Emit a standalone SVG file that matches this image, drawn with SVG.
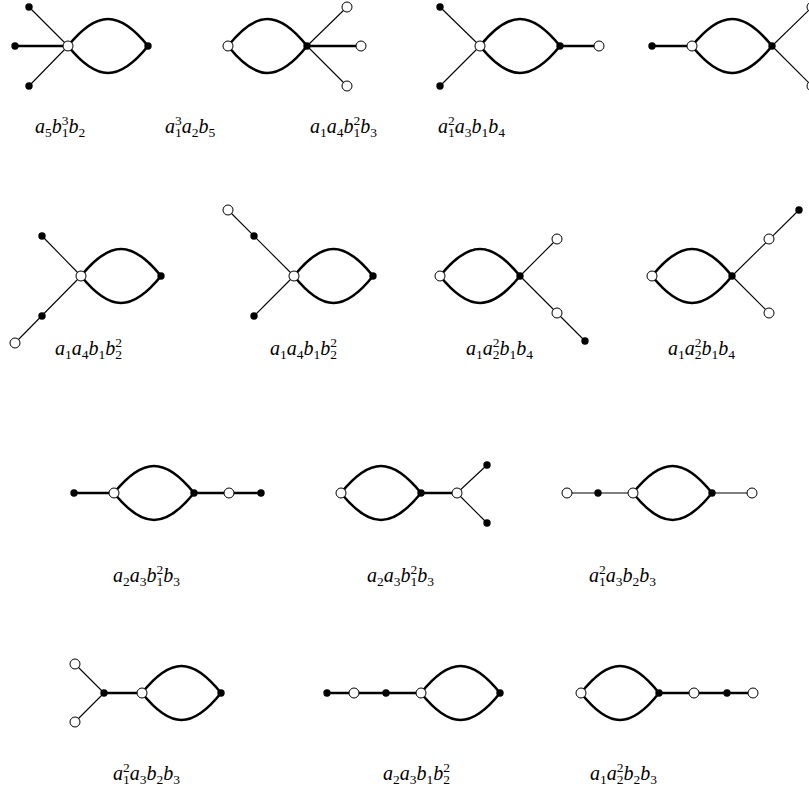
<svg xmlns="http://www.w3.org/2000/svg" width="809" height="793" viewBox="0 0 809 793">
<style>
.bg{fill:#fff}
.lens{fill:none;stroke:#000;stroke-width:2.6}
.thick{stroke:#000;stroke-width:2.4}
.thin{stroke:#000;stroke-width:1.1}
.w{fill:#fff;stroke:#000;stroke-width:1}
.b{fill:#000}
.m{font-family:"Liberation Serif","DejaVu Serif",serif;font-size:20px;font-style:italic;fill:#000}
.d{font-size:13.5px;font-style:normal}
</style>
<defs>
<path id="lens" d="M0 0 C29 -36 51 -36 80 0 M0 0 C29 36 51 36 80 0"/>
<circle id="W" r="5"/>
<circle id="B" r="3.7"/>
</defs>
<rect class="bg" width="809" height="793"/>
<g id="connectors">
<line class="thin" x1="29" y1="7" x2="68" y2="46"/><line class="thick" x1="15" y1="46" x2="68" y2="46"/><line class="thin" x1="29" y1="86" x2="68" y2="46"/>
<use href="#lens" class="lens" x="68" y="46"/>
<use href="#lens" class="lens" transform="translate(228 46) scale(0.9875 1)"/>
<line class="thin" x1="307" y1="46" x2="347" y2="7"/><line class="thick" x1="307" y1="46" x2="361" y2="46"/><line class="thin" x1="307" y1="46" x2="347" y2="86"/>
<line class="thin" x1="440" y1="7" x2="480" y2="46"/><line class="thin" x1="440" y1="86" x2="480" y2="46"/>
<use href="#lens" class="lens" x="480" y="46"/>
<line class="thick" x1="560" y1="46" x2="599" y2="46"/>
<line class="thick" x1="652" y1="46" x2="692" y2="46"/>
<use href="#lens" class="lens" x="692" y="46"/>
<line class="thin" x1="772" y1="46" x2="812" y2="7"/><line class="thin" x1="772" y1="46" x2="812" y2="86"/>
<line class="thin" x1="42" y1="236" x2="81" y2="276"/><line class="thin" x1="15" y1="343" x2="81" y2="276"/>
<use href="#lens" class="lens" x="81" y="276"/>
<line class="thin" x1="228" y1="210" x2="294" y2="276"/><line class="thin" x1="254" y1="316" x2="294" y2="276"/>
<use href="#lens" class="lens" transform="translate(294 276) scale(0.9875 1)"/>
<use href="#lens" class="lens" x="440" y="276"/>
<line class="thin" x1="520" y1="276" x2="557" y2="239"/><line class="thin" x1="520" y1="276" x2="585" y2="341"/>
<use href="#lens" class="lens" x="652" y="276"/>
<line class="thin" x1="732" y1="276" x2="799" y2="210"/><line class="thin" x1="732" y1="276" x2="769" y2="313"/>
<line class="thick" x1="74" y1="493" x2="114" y2="493"/>
<use href="#lens" class="lens" x="114" y="493"/>
<line class="thick" x1="194" y1="493" x2="261" y2="493"/>
<use href="#lens" class="lens" x="341" y="493"/>
<line class="thick" x1="421" y1="493" x2="457" y2="493"/>
<line class="thin" x1="457" y1="493" x2="487" y2="465"/><line class="thin" x1="457" y1="493" x2="487" y2="523"/>
<line class="thin" x1="567" y1="493" x2="633" y2="493"/>
<use href="#lens" class="lens" transform="translate(633 493) scale(0.9875 1)"/>
<line class="thin" x1="712" y1="493" x2="752" y2="493"/>
<line class="thin" x1="75" y1="664" x2="104" y2="693"/><line class="thin" x1="75" y1="722" x2="104" y2="693"/>
<line class="thick" x1="104" y1="693" x2="142" y2="693"/>
<use href="#lens" class="lens" transform="translate(142 693) scale(0.9875 1)"/>
<line class="thick" x1="327" y1="693" x2="421" y2="693"/>
<use href="#lens" class="lens" transform="translate(421 693) scale(0.9875 1)"/>
<use href="#lens" class="lens" transform="translate(581 693) scale(0.975 1)"/>
<line class="thick" x1="659" y1="693" x2="753" y2="693"/>
</g>
<g id="g1"><use href="#W" class="w" x="68" y="46"/><use href="#B" class="b" x="148" y="46"/><use href="#B" class="b" x="29" y="7"/><use href="#B" class="b" x="15" y="46"/><use href="#B" class="b" x="29" y="86"/>
<text class="m" x="35" y="133">a<tspan class="d" dy="4">5</tspan><tspan dy="-4">b</tspan><tspan class="d" dy="4">1</tspan><tspan class="d" dx="-6.8" dy="-12">3</tspan><tspan dy="8">b</tspan><tspan class="d" dy="4">2</tspan></text></g>
<g id="g2"><use href="#W" class="w" x="228" y="46"/><use href="#B" class="b" x="307" y="46"/><use href="#W" class="w" x="347" y="7"/><use href="#W" class="w" x="361" y="46"/><use href="#W" class="w" x="347" y="86"/>
<text class="m" x="165" y="133">a<tspan class="d" dy="4">1</tspan><tspan class="d" dx="-6.8" dy="-12">3</tspan><tspan dy="8">a</tspan><tspan class="d" dy="4">2</tspan><tspan dy="-4">b</tspan><tspan class="d" dy="4">5</tspan></text></g>
<g id="g3"><use href="#W" class="w" x="480" y="46"/><use href="#B" class="b" x="560" y="46"/><use href="#B" class="b" x="440" y="7"/><use href="#B" class="b" x="440" y="86"/><use href="#W" class="w" x="599" y="46"/>
<text class="m" x="310" y="133">a<tspan class="d" dy="4">1</tspan><tspan dy="-4">a</tspan><tspan class="d" dy="4">4</tspan><tspan dy="-4">b</tspan><tspan class="d" dy="4">1</tspan><tspan class="d" dx="-6.8" dy="-12">2</tspan><tspan dy="8">b</tspan><tspan class="d" dy="4">3</tspan></text></g>
<g id="g4"><use href="#B" class="b" x="652" y="46"/><use href="#W" class="w" x="692" y="46"/><use href="#B" class="b" x="772" y="46"/><use href="#W" class="w" x="812" y="7"/><use href="#W" class="w" x="812" y="86"/>
<text class="m" x="438" y="133">a<tspan class="d" dy="4">1</tspan><tspan class="d" dx="-6.8" dy="-12">2</tspan><tspan dy="8">a</tspan><tspan class="d" dy="4">3</tspan><tspan dy="-4">b</tspan><tspan class="d" dy="4">1</tspan><tspan dy="-4">b</tspan><tspan class="d" dy="4">4</tspan></text></g>
<g id="g5"><use href="#W" class="w" x="81" y="276"/><use href="#B" class="b" x="161" y="276"/><use href="#B" class="b" x="42" y="236"/><use href="#B" class="b" x="42" y="316"/><use href="#W" class="w" x="15" y="343"/>
<text class="m" x="55" y="355">a<tspan class="d" dy="4">1</tspan><tspan dy="-4">a</tspan><tspan class="d" dy="4">4</tspan><tspan dy="-4">b</tspan><tspan class="d" dy="4">1</tspan><tspan dy="-4">b</tspan><tspan class="d" dy="4">2</tspan><tspan class="d" dx="-6.8" dy="-12">2</tspan></text></g>
<g id="g6"><use href="#W" class="w" x="294" y="276"/><use href="#B" class="b" x="373" y="276"/><use href="#B" class="b" x="254" y="236"/><use href="#W" class="w" x="228" y="210"/><use href="#B" class="b" x="254" y="316"/>
<text class="m" x="270" y="355">a<tspan class="d" dy="4">1</tspan><tspan dy="-4">a</tspan><tspan class="d" dy="4">4</tspan><tspan dy="-4">b</tspan><tspan class="d" dy="4">1</tspan><tspan dy="-4">b</tspan><tspan class="d" dy="4">2</tspan><tspan class="d" dx="-6.8" dy="-12">2</tspan></text></g>
<g id="g7"><use href="#W" class="w" x="440" y="276"/><use href="#B" class="b" x="520" y="276"/><use href="#W" class="w" x="557" y="239"/><use href="#W" class="w" x="557" y="313"/><use href="#B" class="b" x="585" y="341"/>
<text class="m" x="466" y="355">a<tspan class="d" dy="4">1</tspan><tspan dy="-4">a</tspan><tspan class="d" dy="4">2</tspan><tspan class="d" dx="-6.8" dy="-12">2</tspan><tspan dy="8">b</tspan><tspan class="d" dy="4">1</tspan><tspan dy="-4">b</tspan><tspan class="d" dy="4">4</tspan></text></g>
<g id="g8"><use href="#W" class="w" x="652" y="276"/><use href="#B" class="b" x="732" y="276"/><use href="#W" class="w" x="769" y="239"/><use href="#B" class="b" x="799" y="210"/><use href="#W" class="w" x="769" y="313"/>
<text class="m" x="668" y="355">a<tspan class="d" dy="4">1</tspan><tspan dy="-4">a</tspan><tspan class="d" dy="4">2</tspan><tspan class="d" dx="-6.8" dy="-12">2</tspan><tspan dy="8">b</tspan><tspan class="d" dy="4">1</tspan><tspan dy="-4">b</tspan><tspan class="d" dy="4">4</tspan></text></g>
<g id="g9"><use href="#B" class="b" x="74" y="493"/><use href="#W" class="w" x="114" y="493"/><use href="#B" class="b" x="194" y="493"/><use href="#W" class="w" x="229" y="493"/><use href="#B" class="b" x="261" y="493"/>
<text class="m" x="113" y="582">a<tspan class="d" dy="4">2</tspan><tspan dy="-4">a</tspan><tspan class="d" dy="4">3</tspan><tspan dy="-4">b</tspan><tspan class="d" dy="4">1</tspan><tspan class="d" dx="-6.8" dy="-12">2</tspan><tspan dy="8">b</tspan><tspan class="d" dy="4">3</tspan></text></g>
<g id="g10"><use href="#W" class="w" x="341" y="493"/><use href="#B" class="b" x="421" y="493"/><use href="#W" class="w" x="457" y="493"/><use href="#B" class="b" x="487" y="465"/><use href="#B" class="b" x="487" y="523"/>
<text class="m" x="367" y="582">a<tspan class="d" dy="4">2</tspan><tspan dy="-4">a</tspan><tspan class="d" dy="4">3</tspan><tspan dy="-4">b</tspan><tspan class="d" dy="4">1</tspan><tspan class="d" dx="-6.8" dy="-12">2</tspan><tspan dy="8">b</tspan><tspan class="d" dy="4">3</tspan></text></g>
<g id="g11"><use href="#W" class="w" x="567" y="493"/><use href="#B" class="b" x="598" y="493"/><use href="#W" class="w" x="633" y="493"/><use href="#B" class="b" x="712" y="493"/><use href="#W" class="w" x="752" y="493"/>
<text class="m" x="589" y="582">a<tspan class="d" dy="4">1</tspan><tspan class="d" dx="-6.8" dy="-12">2</tspan><tspan dy="8">a</tspan><tspan class="d" dy="4">3</tspan><tspan dy="-4">b</tspan><tspan class="d" dy="4">2</tspan><tspan dy="-4">b</tspan><tspan class="d" dy="4">3</tspan></text></g>
<g id="g12"><use href="#W" class="w" x="75" y="664"/><use href="#W" class="w" x="75" y="722"/><use href="#B" class="b" x="104" y="693"/><use href="#W" class="w" x="142" y="693"/><use href="#B" class="b" x="221" y="693"/>
<text class="m" x="113" y="780">a<tspan class="d" dy="4">1</tspan><tspan class="d" dx="-6.8" dy="-12">2</tspan><tspan dy="8">a</tspan><tspan class="d" dy="4">3</tspan><tspan dy="-4">b</tspan><tspan class="d" dy="4">2</tspan><tspan dy="-4">b</tspan><tspan class="d" dy="4">3</tspan></text></g>
<g id="g13"><use href="#B" class="b" x="327" y="693"/><use href="#W" class="w" x="354" y="693"/><use href="#B" class="b" x="386" y="693"/><use href="#W" class="w" x="421" y="693"/><use href="#B" class="b" x="500" y="693"/>
<text class="m" x="383" y="780">a<tspan class="d" dy="4">2</tspan><tspan dy="-4">a</tspan><tspan class="d" dy="4">3</tspan><tspan dy="-4">b</tspan><tspan class="d" dy="4">1</tspan><tspan dy="-4">b</tspan><tspan class="d" dy="4">2</tspan><tspan class="d" dx="-6.8" dy="-12">2</tspan></text></g>
<g id="g14"><use href="#W" class="w" x="581" y="693"/><use href="#B" class="b" x="659" y="693"/><use href="#W" class="w" x="694" y="693"/><use href="#B" class="b" x="727" y="693"/><use href="#W" class="w" x="753" y="693"/>
<text class="m" x="590" y="780">a<tspan class="d" dy="4">1</tspan><tspan dy="-4">a</tspan><tspan class="d" dy="4">2</tspan><tspan class="d" dx="-6.8" dy="-12">2</tspan><tspan dy="8">b</tspan><tspan class="d" dy="4">2</tspan><tspan dy="-4">b</tspan><tspan class="d" dy="4">3</tspan></text></g>
</svg>
